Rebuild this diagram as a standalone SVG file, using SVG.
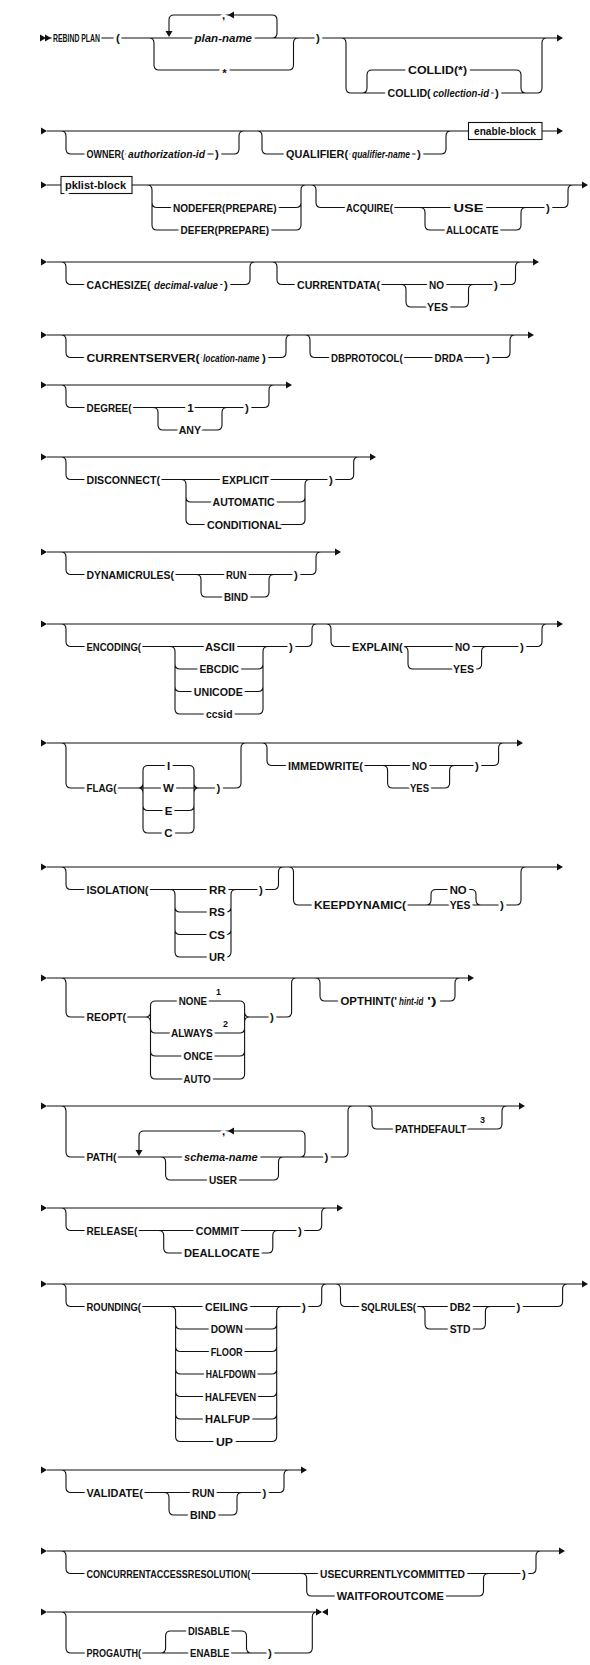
<svg xmlns="http://www.w3.org/2000/svg" width="590" height="1665" viewBox="0 0 590 1665">
<style>
.l{fill:none;stroke:#111;stroke-width:1.1}
.a{fill:#111}
.t{font-family:"Liberation Sans",Arial,sans-serif;font-weight:bold;font-size:11.5px;fill:#111;stroke:#fff;stroke-width:6px;stroke-linejoin:round;paint-order:stroke;dominant-baseline:central}
.i{font-style:italic}
.c{text-anchor:middle}
.s{font-size:9px;stroke-width:3px}
.b{fill:#fff;stroke:#111;stroke-width:1.1}
</style>
<defs>
<path id="ar" d="M0,-3.5 L6,0 L0,3.5 Z"/>
<path id="al" d="M0,0 L6,-3.5 L6,3.5 Z"/>
<path id="ad" d="M-3.5,-6 L3.5,-6 L0,0 Z"/>
</defs>
<rect width="590" height="1665" fill="#fff"/>
<g id="connectors">
<path class="l" d="M49,38 H557 M149,38 Q154,38 154,43 V65 Q154,70 159,70 M159,70 H288.5 M288.5,70 Q293.5,70 293.5,65 V43 Q293.5,38 298.5,38 M272,38 Q277,38 277,33 V20 Q277,15 272,15 H174 Q169,15 169,20 V31 M341,38 Q346,38 346,43 V88 Q346,93 351,93 M351,93 H537 M537,93 Q542,93 542,88 V43 Q542,38 547,38 M362,93 Q367,93 367,88 V75 Q367,70 372,70 M372,70 H516 M516,70 Q521,70 521,75 V88 Q521,93 526,93"/>
<path class="l" d="M47,131 H468.5 M542,131 H557 M61,131 Q66,131 66,136 V149 Q66,154 71,154 M71,154 H234 M234,154 Q239,154 239,149 V136 Q239,131 244,131 M257,131 Q262,131 262,136 V149 Q262,154 267,154 M267,154 H441 M441,154 Q446,154 446,149 V136 Q446,131 451,131"/>
<path class="l" d="M47,185 H61 M132,185 H582 M147,185 Q152,185 152,190 V225 Q152,230 157,230 M152,202.5 Q152,207.5 157,207.5 M157,207.5 H296 M157,230 H296 M296,230 Q301,230 301,225 V190 Q301,185 306,185 M296,207.5 Q301,207.5 301,202.5 M311,185 Q316,185 316,190 V202.5 Q316,207.5 321,207.5 M321,207.5 H563 M563,207.5 Q568,207.5 568,202.5 V190 Q568,185 573,185 M420,207.5 Q425,207.5 425,212.5 V225 Q425,230 430,230 M430,230 H516 M516,230 Q521,230 521,225 V212.5 Q521,207.5 526,207.5"/>
<path class="l" d="M47,262 H533 M61,262 Q66,262 66,267 V279.5 Q66,284.5 71,284.5 M71,284.5 H245 M245,284.5 Q250,284.5 250,279.5 V267 Q250,262 255,262 M272,262 Q277,262 277,267 V279.5 Q277,284.5 282,284.5 M282,284.5 H510.5 M510.5,284.5 Q515.5,284.5 515.5,279.5 V267 Q515.5,262 520.5,262 M401,284.5 Q406,284.5 406,289.5 V302 Q406,307 411,307 M411,307 H463.5 M463.5,307 Q468.5,307 468.5,302 V289.5 Q468.5,284.5 473.5,284.5"/>
<path class="l" d="M47,335 H528 M61,335 Q66,335 66,340 V352.5 Q66,357.5 71,357.5 M71,357.5 H281 M281,357.5 Q286,357.5 286,352.5 V340 Q286,335 291,335 M305,335 Q310,335 310,340 V352.5 Q310,357.5 315,357.5 M315,357.5 H505 M505,357.5 Q510,357.5 510,352.5 V340 Q510,335 515,335"/>
<path class="l" d="M47,385 H286 M61,385 Q66,385 66,390 V402.5 Q66,407.5 71,407.5 M71,407.5 H264 M264,407.5 Q269,407.5 269,402.5 V390 Q269,385 274,385 M153,407.5 Q158,407.5 158,412.5 V425 Q158,430 163,430 M163,430 H217 M217,430 Q222,430 222,425 V412.5 Q222,407.5 227,407.5"/>
<path class="l" d="M47,457 H370 M61,457 Q66,457 66,462 V474.5 Q66,479.5 71,479.5 M71,479.5 H348.7 M348.7,479.5 Q353.7,479.5 353.7,474.5 V462 Q353.7,457 358.7,457 M181,479.5 Q186,479.5 186,484.5 V519.5 Q186,524.5 191,524.5 M186,497 Q186,502 191,502 M191,502 H300 M191,524.5 H300 M300,524.5 Q305,524.5 305,519.5 V484.5 Q305,479.5 310,479.5 M300,502 Q305,502 305,497"/>
<path class="l" d="M47,552 H335 M61,552 Q66,552 66,557 V569.5 Q66,574.5 71,574.5 M71,574.5 H311 M311,574.5 Q316,574.5 316,569.5 V557 Q316,552 321,552 M196,574.5 Q201,574.5 201,579.5 V592 Q201,597 206,597 M206,597 H264 M264,597 Q269,597 269,592 V579.5 Q269,574.5 274,574.5"/>
<path class="l" d="M47,624 H557 M61,624 Q66,624 66,629 V641.5 Q66,646.5 71,646.5 M71,646.5 H307 M307,646.5 Q312,646.5 312,641.5 V629 Q312,624 317,624 M170,646.5 Q175,646.5 175,651.5 V709 Q175,714 180,714 M175,664 Q175,669 180,669 M175,686.5 Q175,691.5 180,691.5 M180,669 H258 M180,691.5 H258 M180,714 H258 M258,714 Q263,714 263,709 V651.5 Q263,646.5 268,646.5 M258,669 Q263,669 263,664 M258,691.5 Q263,691.5 263,686.5 M326,624 Q331,624 331,629 V641.5 Q331,646.5 336,646.5 M336,646.5 H537 M537,646.5 Q542,646.5 542,641.5 V629 Q542,624 547,624 M403,646.5 Q408,646.5 408,651.5 V664 Q408,669 413,669 M413,669 H476.6 M476.6,669 Q481.6,669 481.6,664 V651.5 Q481.6,646.5 486.6,646.5"/>
<path class="l" d="M47,743 H517 M61,743 Q66,743 66,748 V783 Q66,788 71,788 M71,788 H236 M236,788 Q241,788 241,783 V748 Q241,743 246,743 M143,770.5 Q143,765.5 148,765.5 M143,770.5 V828 Q143,833 148,833 M143,805.5 Q143,810.5 148,810.5 M138,788 Q143,788 143,783 M138,788 Q143,788 143,793 M148,765.5 H189 M148,810.5 H189 M148,833 H189 M189,765.5 Q194,765.5 194,770.5 V828 Q194,833 189,833 M189,810.5 Q194,810.5 194,805.5 M194,783 Q194,788 199,788 M194,793 Q194,788 199,788 M262,743 Q267,743 267,748 V760.5 Q267,765.5 272,765.5 M272,765.5 H493.6 M493.6,765.5 Q498.6,765.5 498.6,760.5 V748 Q498.6,743 503.6,743 M382.6,765.5 Q387.6,765.5 387.6,770.5 V783 Q387.6,788 392.6,788 M392.6,788 H444.6 M444.6,788 Q449.6,788 449.6,783 V770.5 Q449.6,765.5 454.6,765.5"/>
<path class="l" d="M47,867 H557 M61,867 Q66,867 66,872 V884.5 Q66,889.5 71,889.5 M71,889.5 H273.5 M273.5,889.5 Q278.5,889.5 278.5,884.5 V872 Q278.5,867 283.5,867 M170,889.5 Q175,889.5 175,894.5 V952 Q175,957 180,957 M175,907 Q175,912 180,912 M175,929.5 Q175,934.5 180,934.5 M180,912 H226 M180,934.5 H226 M180,957 H226 M226,957 Q231,957 231,952 V894.5 Q231,889.5 236,889.5 M226,912 Q231,912 231,907 M226,934.5 Q231,934.5 231,929.5 M288.5,867 Q293.5,867 293.5,872 V900 Q293.5,905 298.5,905 M298.5,905 H516 M516,905 Q521,905 521,900 V872 Q521,867 526,867 M426,905 Q431,905 431,900 V894.5 Q431,889.5 436,889.5 M436,889.5 H471 M471,889.5 Q476,889.5 476,894.5 V900 Q476,905 481,905"/>
<path class="l" d="M47,978 H468 M61,978 Q66,978 66,983 V1012 Q66,1017 71,1017 M71,1017 H145.5 M249.6,1017 H286.6 M286.6,1017 Q291.6,1017 291.6,1012 V983 Q291.6,978 296.6,978 M150.5,1006 Q150.5,1001 155.5,1001 M150.5,1006 V1074 Q150.5,1079 155.5,1079 M150.5,1028 Q150.5,1033 155.5,1033 M150.5,1051 Q150.5,1056 155.5,1056 M145.5,1017 Q150.5,1017 150.5,1012 M145.5,1017 Q150.5,1017 150.5,1022 M155.5,1001 H239.6 M155.5,1033 H239.6 M155.5,1056 H239.6 M155.5,1079 H239.6 M239.6,1001 Q244.6,1001 244.6,1006 V1074 Q244.6,1079 239.6,1079 M239.6,1033 Q244.6,1033 244.6,1028 M239.6,1056 Q244.6,1056 244.6,1051 M244.6,1012 Q244.6,1017 249.6,1017 M244.6,1022 Q244.6,1017 249.6,1017 M315,978 Q320,978 320,983 V996 Q320,1001 325,1001 M325,1001 H450 M450,1001 Q455,1001 455,996 V983 Q455,978 460,978"/>
<path class="l" d="M47,1106 H519 M61,1106 Q66,1106 66,1111 V1152 Q66,1157 71,1157 M71,1157 H343 M343,1157 Q348,1157 348,1152 V1111 Q348,1106 353,1106 M300,1157 Q305,1157 305,1152 V1136 Q305,1131 300,1131 H144 Q139,1131 139,1136 V1150 M160.6,1157 Q165.6,1157 165.6,1162 V1175 Q165.6,1180 170.6,1180 M170.6,1180 H273.5 M273.5,1180 Q278.5,1180 278.5,1175 V1162 Q278.5,1157 283.5,1157 M367,1106 Q372,1106 372,1111 V1124 Q372,1129 377,1129 M377,1129 H497 M497,1129 Q502,1129 502,1124 V1111 Q502,1106 507,1106"/>
<path class="l" d="M47,1208 H337 M61,1208 Q66,1208 66,1213 V1225.5 Q66,1230.5 71,1230.5 M71,1230.5 H316.7 M316.7,1230.5 Q321.7,1230.5 321.7,1225.5 V1213 Q321.7,1208 326.7,1208 M158.7,1230.5 Q163.7,1230.5 163.7,1235.5 V1248 Q163.7,1253 168.7,1253 M168.7,1253 H267.8 M267.8,1253 Q272.8,1253 272.8,1248 V1235.5 Q272.8,1230.5 277.8,1230.5"/>
<path class="l" d="M47,1284 H582 M61,1284 Q66,1284 66,1289 V1301.5 Q66,1306.5 71,1306.5 M71,1306.5 H316.7 M316.7,1306.5 Q321.7,1306.5 321.7,1301.5 V1289 Q321.7,1284 326.7,1284 M170.6,1306.5 Q175.6,1306.5 175.6,1311.5 V1436.5 Q175.6,1441.5 180.6,1441.5 M175.6,1324 Q175.6,1329 180.6,1329 M175.6,1346.5 Q175.6,1351.5 180.6,1351.5 M175.6,1369 Q175.6,1374 180.6,1374 M175.6,1391.5 Q175.6,1396.5 180.6,1396.5 M175.6,1414 Q175.6,1419 180.6,1419 M180.6,1329 H271.7 M180.6,1351.5 H271.7 M180.6,1374 H271.7 M180.6,1396.5 H271.7 M180.6,1419 H271.7 M180.6,1441.5 H271.7 M271.7,1441.5 Q276.7,1441.5 276.7,1436.5 V1311.5 Q276.7,1306.5 281.7,1306.5 M271.7,1329 Q276.7,1329 276.7,1324 M271.7,1351.5 Q276.7,1351.5 276.7,1346.5 M271.7,1374 Q276.7,1374 276.7,1369 M271.7,1396.5 Q276.7,1396.5 276.7,1391.5 M271.7,1419 Q276.7,1419 276.7,1414 M335.5,1284 Q340.5,1284 340.5,1289 V1301.5 Q340.5,1306.5 345.5,1306.5 M345.5,1306.5 H557.6 M557.6,1306.5 Q562.6,1306.5 562.6,1301.5 V1289 Q562.6,1284 567.6,1284 M420,1306.5 Q425,1306.5 425,1311.5 V1324 Q425,1329 430,1329 M430,1329 H480.4 M480.4,1329 Q485.4,1329 485.4,1324 V1311.5 Q485.4,1306.5 490.4,1306.5"/>
<path class="l" d="M47,1470 H301 M61,1470 Q66,1470 66,1475 V1487.5 Q66,1492.5 71,1492.5 M71,1492.5 H279 M279,1492.5 Q284,1492.5 284,1487.5 V1475 Q284,1470 289,1470 M164,1492.5 Q169,1492.5 169,1497.5 V1510 Q169,1515 174,1515 M174,1515 H232 M232,1515 Q237,1515 237,1510 V1497.5 Q237,1492.5 242,1492.5"/>
<path class="l" d="M47,1551 H559 M61,1551 Q66,1551 66,1556 V1568.5 Q66,1573.5 71,1573.5 M71,1573.5 H531 M531,1573.5 Q536,1573.5 536,1568.5 V1556 Q536,1551 541,1551 M301.7,1573.5 Q306.7,1573.5 306.7,1578.5 V1591 Q306.7,1596 311.7,1596 M311.7,1596 H478.5 M478.5,1596 Q483.5,1596 483.5,1591 V1578.5 Q483.5,1573.5 488.5,1573.5"/>
<path class="l" d="M47,1612 H316 M61,1612 Q66,1612 66,1617 V1648 Q66,1653 71,1653 M71,1653 H307.3 M307.3,1653 Q312.3,1653 312.3,1648 V1617 Q312.3,1612 317.3,1612 M160.6,1653 Q165.6,1653 165.6,1648 V1636 Q165.6,1631 170.6,1631 M170.6,1631 H241.5 M241.5,1631 Q246.5,1631 246.5,1636 V1648 Q246.5,1653 251.5,1653"/>
<g class="a">
<use href="#ar" x="40" y="38"/><use href="#ar" x="45" y="38"/><use href="#ar" x="557" y="38"/>
<use href="#ad" x="169" y="37"/><use href="#al" x="228" y="15"/>
<use href="#ar" x="41" y="131"/><use href="#ar" x="557" y="131"/>
<use href="#ar" x="41" y="185"/><use href="#ar" x="582" y="185"/>
<use href="#ar" x="41" y="262"/><use href="#ar" x="533" y="262"/>
<use href="#ar" x="41" y="335"/><use href="#ar" x="528" y="335"/>
<use href="#ar" x="41" y="385"/><use href="#ar" x="286" y="385"/>
<use href="#ar" x="41" y="457"/><use href="#ar" x="370" y="457"/>
<use href="#ar" x="41" y="552"/><use href="#ar" x="335" y="552"/>
<use href="#ar" x="41" y="624"/><use href="#ar" x="557" y="624"/>
<use href="#ar" x="41" y="743"/><use href="#ar" x="517" y="743"/>
<use href="#ar" x="41" y="867"/><use href="#ar" x="557" y="867"/>
<use href="#ar" x="41" y="978"/><use href="#ar" x="468" y="978"/>
<use href="#ar" x="41" y="1106"/><use href="#ar" x="519" y="1106"/>
<use href="#ad" x="139" y="1156"/><use href="#al" x="228" y="1131"/>
<use href="#ar" x="41" y="1208"/><use href="#ar" x="337" y="1208"/>
<use href="#ar" x="41" y="1284"/><use href="#ar" x="582" y="1284"/>
<use href="#ar" x="41" y="1470"/><use href="#ar" x="301" y="1470"/>
<use href="#ar" x="41" y="1551"/><use href="#ar" x="559" y="1551"/>
<use href="#ar" x="41" y="1612"/><use href="#ar" x="316" y="1612"/><use href="#al" x="322" y="1612"/>
</g>
</g>
<g id="row1">
<text class="t" x="53" y="38" textLength="47" lengthAdjust="spacingAndGlyphs">REBIND PLAN</text>
<text class="t" x="116" y="38">(</text>
<text class="t" x="222" y="15">,</text>
<text class="t i" x="194.5" y="38" textLength="57.5" lengthAdjust="spacingAndGlyphs">plan-name</text>
<text class="t c" x="224.5" y="72.5">*</text>
<text class="t" x="316" y="38">)</text>
<text class="t" x="408" y="70" textLength="59" lengthAdjust="spacingAndGlyphs">COLLID(*)</text>
<text class="t" x="387.6" y="93" textLength="43" lengthAdjust="spacingAndGlyphs">COLLID(</text>
<text class="t i" x="433" y="93" textLength="56" lengthAdjust="spacingAndGlyphs">collection-id</text>
<text class="t" x="495" y="93">)</text>
</g>
<g id="row2">
<text class="t" x="86.5" y="154" textLength="37.5" lengthAdjust="spacingAndGlyphs">OWNER(</text>
<text class="t i" x="128" y="154" textLength="77" lengthAdjust="spacingAndGlyphs">authorization-id</text>
<text class="t" x="215" y="154">)</text>
<text class="t" x="286" y="154" textLength="62" lengthAdjust="spacingAndGlyphs">QUALIFIER(</text>
<text class="t i" x="352" y="154" textLength="58" lengthAdjust="spacingAndGlyphs">qualifier-name</text>
<text class="t" x="417" y="154">)</text>
</g>
<g id="enable-block">
<rect class="b" x="468.5" y="122.5" width="73.5" height="17"/>
<text class="t" x="474" y="131" textLength="62" lengthAdjust="spacingAndGlyphs">enable-block</text>
</g>
<g id="pklist-block">
<rect class="b" x="61" y="176.5" width="71" height="17"/>
<text class="t" x="65" y="185" textLength="61" lengthAdjust="spacingAndGlyphs">pklist-block</text>
</g>
<g id="row3">
<text class="t" x="173" y="207.5" textLength="103.6" lengthAdjust="spacingAndGlyphs">NODEFER(PREPARE)</text>
<text class="t" x="180.6" y="230" textLength="88.4" lengthAdjust="spacingAndGlyphs">DEFER(PREPARE)</text>
<text class="t" x="346" y="207.5" textLength="47" lengthAdjust="spacingAndGlyphs">ACQUIRE(</text>
<text class="t" x="453.5" y="207.5" textLength="30" lengthAdjust="spacingAndGlyphs">USE</text>
<text class="t" x="446" y="230" textLength="52.6" lengthAdjust="spacingAndGlyphs">ALLOCATE</text>
<text class="t" x="546" y="207.5">)</text>
</g>
<g id="row4">
<text class="t" x="86.5" y="284.5" textLength="64" lengthAdjust="spacingAndGlyphs">CACHESIZE(</text>
<text class="t i" x="154" y="284.5" textLength="64" lengthAdjust="spacingAndGlyphs">decimal-value</text>
<text class="t" x="224" y="284.5">)</text>
<text class="t" x="297" y="284.5" textLength="83" lengthAdjust="spacingAndGlyphs">CURRENTDATA(</text>
<text class="t" x="429" y="284.5" textLength="15" lengthAdjust="spacingAndGlyphs">NO</text>
<text class="t" x="427" y="307" textLength="21" lengthAdjust="spacingAndGlyphs">YES</text>
<text class="t" x="494" y="284.5">)</text>
</g>
<g id="row5">
<text class="t" x="86.5" y="357.5" textLength="113" lengthAdjust="spacingAndGlyphs">CURRENTSERVER(</text>
<text class="t i" x="203" y="357.5" textLength="56.5" lengthAdjust="spacingAndGlyphs">location-name</text>
<text class="t" x="262" y="357.5">)</text>
<text class="t" x="331" y="357.5" textLength="71.6" lengthAdjust="spacingAndGlyphs">DBPROTOCOL(</text>
<text class="t" x="434.6" y="357.5" textLength="28.4" lengthAdjust="spacingAndGlyphs">DRDA</text>
<text class="t" x="486" y="357.5">)</text>
</g>
<g id="row6">
<text class="t" x="86.5" y="407.5" textLength="45" lengthAdjust="spacingAndGlyphs">DEGREE(</text>
<text class="t c" x="190.5" y="407.5">1</text>
<text class="t" x="178.7" y="430" textLength="22.3" lengthAdjust="spacingAndGlyphs">ANY</text>
<text class="t" x="245" y="407.5">)</text>
</g>
<g id="row7">
<text class="t" x="86.5" y="479.5" textLength="73.5" lengthAdjust="spacingAndGlyphs">DISCONNECT(</text>
<text class="t" x="222" y="479.5" textLength="47" lengthAdjust="spacingAndGlyphs">EXPLICIT</text>
<text class="t" x="212.6" y="502" textLength="62" lengthAdjust="spacingAndGlyphs">AUTOMATIC</text>
<text class="t" x="207" y="524.5" textLength="74.5" lengthAdjust="spacingAndGlyphs">CONDITIONAL</text>
<text class="t" x="329" y="479.5">)</text>
</g>
<g id="row8">
<text class="t" x="86.5" y="574.5" textLength="87.5" lengthAdjust="spacingAndGlyphs">DYNAMICRULES(</text>
<text class="t" x="226" y="574.5" textLength="20.5" lengthAdjust="spacingAndGlyphs">RUN</text>
<text class="t" x="224" y="597" textLength="24" lengthAdjust="spacingAndGlyphs">BIND</text>
<text class="t" x="294" y="574.5">)</text>
</g>
<g id="row9">
<text class="t" x="86.5" y="646.5" textLength="54.5" lengthAdjust="spacingAndGlyphs">ENCODING(</text>
<text class="t" x="205" y="646.5" textLength="30" lengthAdjust="spacingAndGlyphs">ASCII</text>
<text class="t" x="199.4" y="669" textLength="39.6" lengthAdjust="spacingAndGlyphs">EBCDIC</text>
<text class="t" x="193.8" y="691.5" textLength="49" lengthAdjust="spacingAndGlyphs">UNICODE</text>
<text class="t" x="206" y="714" textLength="26.5" lengthAdjust="spacingAndGlyphs">ccsid</text>
<text class="t" x="289" y="646.5">)</text>
<text class="t" x="352" y="646.5" textLength="50.6" lengthAdjust="spacingAndGlyphs">EXPLAIN(</text>
<text class="t" x="455" y="646.5" textLength="15" lengthAdjust="spacingAndGlyphs">NO</text>
<text class="t" x="453" y="669" textLength="21" lengthAdjust="spacingAndGlyphs">YES</text>
<text class="t" x="520" y="646.5">)</text>
</g>
<g id="row10">
<text class="t" x="86.5" y="788" textLength="30" lengthAdjust="spacingAndGlyphs">FLAG(</text>
<text class="t c" x="168.5" y="765.5">I</text>
<text class="t c" x="168.5" y="788">W</text>
<text class="t c" x="168.5" y="810.5">E</text>
<text class="t c" x="168.5" y="833">C</text>
<text class="t" x="216.5" y="788">)</text>
<text class="t" x="288" y="765.5" textLength="75" lengthAdjust="spacingAndGlyphs">IMMEDWRITE(</text>
<text class="t" x="412" y="765.5" textLength="15" lengthAdjust="spacingAndGlyphs">NO</text>
<text class="t" x="410" y="788" textLength="19" lengthAdjust="spacingAndGlyphs">YES</text>
<text class="t" x="475" y="765.5">)</text>
</g>
<g id="row11">
<text class="t" x="86.5" y="889.5" textLength="62" lengthAdjust="spacingAndGlyphs">ISOLATION(</text>
<text class="t" x="209" y="889.5" textLength="17" lengthAdjust="spacingAndGlyphs">RR</text>
<text class="t" x="209" y="912" textLength="16" lengthAdjust="spacingAndGlyphs">RS</text>
<text class="t" x="209" y="934.5" textLength="16" lengthAdjust="spacingAndGlyphs">CS</text>
<text class="t" x="209" y="957" textLength="16" lengthAdjust="spacingAndGlyphs">UR</text>
<text class="t" x="259" y="889.5">)</text>
<text class="t" x="314" y="905" textLength="92" lengthAdjust="spacingAndGlyphs">KEEPDYNAMIC(</text>
<text class="t" x="449.7" y="889.5" textLength="17" lengthAdjust="spacingAndGlyphs">NO</text>
<text class="t" x="449.7" y="905" textLength="20.7" lengthAdjust="spacingAndGlyphs">YES</text>
<text class="t" x="500" y="905">)</text>
</g>
<g id="row12">
<text class="t" x="86.5" y="1017" textLength="39.5" lengthAdjust="spacingAndGlyphs">REOPT(</text>
<text class="t" x="178.7" y="1001" textLength="28.3" lengthAdjust="spacingAndGlyphs">NONE</text>
<text class="t s" x="216" y="992">1</text>
<text class="t" x="171" y="1033" textLength="41.6" lengthAdjust="spacingAndGlyphs">ALWAYS</text>
<text class="t s" x="223" y="1024">2</text>
<text class="t" x="183.6" y="1056" textLength="29" lengthAdjust="spacingAndGlyphs">ONCE</text>
<text class="t" x="183.6" y="1079" textLength="27" lengthAdjust="spacingAndGlyphs">AUTO</text>
<text class="t" x="270" y="1017">)</text>
<text class="t" x="340.5" y="1001" textLength="56.5" lengthAdjust="spacingAndGlyphs">OPTHINT('</text>
<text class="t i" x="399" y="1001" textLength="24.5" lengthAdjust="spacingAndGlyphs">hint-id</text>
<text class="t" x="427" y="1001" textLength="9.5" lengthAdjust="spacingAndGlyphs">')</text>
</g>
<g id="row13">
<text class="t" x="86.5" y="1157" textLength="30" lengthAdjust="spacingAndGlyphs">PATH(</text>
<text class="t" x="222" y="1131">,</text>
<text class="t i" x="184" y="1157" textLength="73.6" lengthAdjust="spacingAndGlyphs">schema-name</text>
<text class="t" x="209" y="1180" textLength="28" lengthAdjust="spacingAndGlyphs">USER</text>
<text class="t" x="324.5" y="1157">)</text>
<text class="t" x="395" y="1129" textLength="71.5" lengthAdjust="spacingAndGlyphs">PATHDEFAULT</text>
<text class="t s" x="480" y="1120">3</text>
</g>
<g id="row14">
<text class="t" x="86.5" y="1230.5" textLength="50.8" lengthAdjust="spacingAndGlyphs">RELEASE(</text>
<text class="t" x="195.7" y="1230.5" textLength="43.3" lengthAdjust="spacingAndGlyphs">COMMIT</text>
<text class="t" x="184" y="1253" textLength="75.6" lengthAdjust="spacingAndGlyphs">DEALLOCATE</text>
<text class="t" x="298" y="1230.5">)</text>
</g>
<g id="row15">
<text class="t" x="86.5" y="1306.5" textLength="54.5" lengthAdjust="spacingAndGlyphs">ROUNDING(</text>
<text class="t" x="205" y="1306.5" textLength="43" lengthAdjust="spacingAndGlyphs">CEILING</text>
<text class="t" x="210.7" y="1329" textLength="32" lengthAdjust="spacingAndGlyphs">DOWN</text>
<text class="t" x="210.7" y="1351.5" textLength="32" lengthAdjust="spacingAndGlyphs">FLOOR</text>
<text class="t" x="205.8" y="1374" textLength="50" lengthAdjust="spacingAndGlyphs">HALFDOWN</text>
<text class="t" x="205" y="1396.5" textLength="51" lengthAdjust="spacingAndGlyphs">HALFEVEN</text>
<text class="t" x="205" y="1419" textLength="45" lengthAdjust="spacingAndGlyphs">HALFUP</text>
<text class="t" x="216" y="1441.5" textLength="17" lengthAdjust="spacingAndGlyphs">UP</text>
<text class="t" x="302" y="1306.5">)</text>
<text class="t" x="361" y="1306.5" textLength="55" lengthAdjust="spacingAndGlyphs">SQLRULES(</text>
<text class="t" x="449.7" y="1306.5" textLength="20.7" lengthAdjust="spacingAndGlyphs">DB2</text>
<text class="t" x="449.7" y="1329" textLength="20.7" lengthAdjust="spacingAndGlyphs">STD</text>
<text class="t" x="516.5" y="1306.5">)</text>
</g>
<g id="row16">
<text class="t" x="86.5" y="1492.5" textLength="56.5" lengthAdjust="spacingAndGlyphs">VALIDATE(</text>
<text class="t" x="192" y="1492.5" textLength="22.5" lengthAdjust="spacingAndGlyphs">RUN</text>
<text class="t" x="190" y="1515" textLength="26" lengthAdjust="spacingAndGlyphs">BIND</text>
<text class="t" x="262.5" y="1492.5">)</text>
</g>
<g id="row17">
<text class="t" x="86.5" y="1573.5" textLength="163.7" lengthAdjust="spacingAndGlyphs">CONCURRENTACCESSRESOLUTION(</text>
<text class="t" x="320" y="1573.5" textLength="145" lengthAdjust="spacingAndGlyphs">USECURRENTLYCOMMITTED</text>
<text class="t" x="336.8" y="1596" textLength="107" lengthAdjust="spacingAndGlyphs">WAITFOROUTCOME</text>
<text class="t" x="522" y="1573.5">)</text>
</g>
<g id="row18">
<text class="t" x="86.5" y="1653" textLength="54.5" lengthAdjust="spacingAndGlyphs">PROGAUTH(</text>
<text class="t" x="188" y="1631" textLength="41.5" lengthAdjust="spacingAndGlyphs">DISABLE</text>
<text class="t" x="190" y="1653" textLength="39.5" lengthAdjust="spacingAndGlyphs">ENABLE</text>
<text class="t" x="268" y="1653">)</text>
</g>
</svg>
